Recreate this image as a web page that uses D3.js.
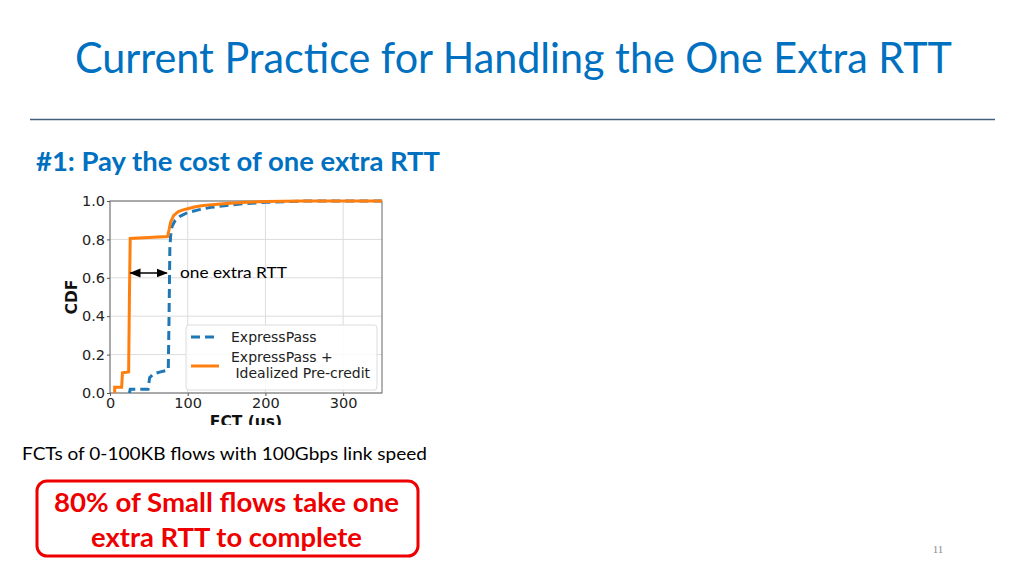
<!DOCTYPE html>
<html>
<head>
<meta charset="utf-8">
<script src="https://cdn.jsdelivr.net/npm/d3@7"></script>
<style>
  body { margin: 0; background: #fff; }
  svg { display: block; }
</style>
</head>
<body>
<div class="canvas"></div>
<script>
// data
const fctExpressPass = [25, 26, 49, 51, 56, 65, 75, 76, 77, 78, 80, 84, 90, 100, 115, 130, 150, 175, 200, 250, 350]
const cdfExpressPass = [0, 0.02, 0.02, 0.08, 0.1, 0.11, 0.12, 0.4, 0.75, 0.82, 0.87, 0.9, 0.92, 0.94, 0.955, 0.967, 0.977, 0.987, 0.993, 1.0, 1.0]
const fctPreCredit = [6, 6, 15, 16, 24, 25, 26, 50, 74, 76, 78, 82, 88, 95, 100, 110, 120, 135, 150, 175, 200, 250, 350]
const cdfPreCredit = [0, 0.03, 0.03, 0.105, 0.11, 0.5, 0.805, 0.81, 0.815, 0.85, 0.89, 0.925, 0.945, 0.955, 0.96, 0.97, 0.976, 0.982, 0.987, 0.993, 0.997, 1.0, 1.0]
const xTicks = [0, 100, 200, 300]
const yTicks = [0, 0.2, 0.4, 0.6, 0.8, 1.0]
const seriesNames = ['ExpressPass', 'ExpressPass +', ' Idealized Pre-credit']
const rttArrow = [25, 73]   // FCT range of the annotation arrow
const rttArrowY = 0.625

const W = 1024, H = 576
const svg = d3.select('.canvas').append('svg')
    .attr('width', W).attr('height', H)

const blue = '#0070C0'
const slideFont = 'Lato, "Open Sans", sans-serif'
const mplFont = '"DejaVu Sans", sans-serif'

// fits text to a measured width (slide font is narrower than Lato)
const fitText = (sel, w) => sel.attr('textLength', w).attr('lengthAdjust', 'spacingAndGlyphs')

// title + rule
svg.append('text')
    .attr('x', 75).attr('y', 73)
    .attr('font-family', slideFont).attr('font-size', 42)
    .attr('fill', blue)
    .text('Current Practice for Handling the One Extra RTT')
    .call(fitText, 877)

svg.append('line')
    .attr('x1', 30).attr('x2', 995).attr('y1', 119.5).attr('y2', 119.5)
    .attr('stroke', '#44607E').attr('stroke-width', 1.5)

svg.append('text')
    .attr('x', 36).attr('y', 171)
    .attr('font-family', slideFont).attr('font-size', 26).attr('font-weight', 'bold')
    .attr('fill', blue)
    .text('#1: Pay the cost of one extra RTT')
    .call(fitText, 404)

// chart
const plot = { left: 110, right: 382, top: 201, bottom: 393 }

const clip = svg.append('clipPath').attr('id', 'figclip')
clip.append('rect').attr('x', 50).attr('y', 188).attr('width', 345).attr('height', 237)

const fig = svg.append('g').attr('clip-path', 'url(#figclip)')

const x = d3.scaleLinear().domain([0, 350]).range([plot.left, plot.right])
const y = d3.scaleLinear().domain([0, 1]).range([plot.bottom, plot.top])

// grid
fig.append('g').selectAll('line.gx')
    .data(xTicks).join('line')
    .attr('x1', d => x(d)).attr('x2', d => x(d))
    .attr('y1', plot.top).attr('y2', plot.bottom)
    .attr('stroke', '#dcdcdc').attr('stroke-width', 1)
fig.append('g').selectAll('line.gy')
    .data(yTicks).join('line')
    .attr('x1', plot.left).attr('x2', plot.right)
    .attr('y1', d => y(d)).attr('y2', d => y(d))
    .attr('stroke', '#dcdcdc').attr('stroke-width', 1)

// axes
const xAxis = fig.append('g')
    .attr('transform', `translate(0, ${plot.bottom})`)
    .call(d3.axisBottom(x).tickValues(xTicks).tickSize(3).tickPadding(2))
const yAxis = fig.append('g')
    .attr('transform', `translate(${plot.left}, 0)`)
    .call(d3.axisLeft(y).tickValues(yTicks).tickFormat(d3.format('.1f')).tickSize(3).tickPadding(2))

;[xAxis, yAxis].forEach(a => {
    a.select('.domain').remove()
    a.selectAll('line').attr('stroke', '#555')
    a.selectAll('text').attr('font-family', mplFont).attr('font-size', 14.5).attr('fill', '#222')
})

// frame
fig.append('rect')
    .attr('x', plot.left).attr('y', plot.top)
    .attr('width', plot.right - plot.left).attr('height', plot.bottom - plot.top)
    .attr('fill', 'none').attr('stroke', '#666').attr('stroke-width', 1)

fig.append('text')
    .attr('transform', `translate(77, ${(plot.top + plot.bottom) / 2}) rotate(-90)`)
    .attr('text-anchor', 'middle')
    .attr('font-family', mplFont).attr('font-size', 15.5).attr('font-weight', 'bold')
    .attr('fill', '#111')
    .text('CDF')

fig.append('text')
    .attr('x', x(175)).attr('y', 427)
    .attr('text-anchor', 'middle')
    .attr('font-family', mplFont).attr('font-size', 15.5).attr('font-weight', 'bold')
    .attr('fill', '#111')
    .text('FCT (us)')

const line = d3.line().x(d => x(d[0])).y(d => y(d[1]))

fig.append('path')
    .datum(d3.zip(fctExpressPass, cdfExpressPass))
    .attr('d', line)
    .attr('fill', 'none').attr('stroke', '#1f77b4').attr('stroke-width', 3)
    .attr('stroke-dasharray', '9,5')

fig.append('path')
    .datum(d3.zip(fctPreCredit, cdfPreCredit))
    .attr('d', line)
    .attr('fill', 'none').attr('stroke', '#ff7f0e').attr('stroke-width', 3)

// legend
const legend = fig.append('g')
legend.append('rect')
    .attr('x', 186).attr('y', 325).attr('width', 191).attr('height', 65).attr('rx', 3)
    .attr('fill', '#fff').attr('fill-opacity', 0.85)
    .attr('stroke', '#ddd').attr('stroke-width', 1)
legend.append('line')
    .attr('x1', 191).attr('x2', 219).attr('y1', 337).attr('y2', 337)
    .attr('stroke', '#1f77b4').attr('stroke-width', 3).attr('stroke-dasharray', '9,5')
legend.append('line')
    .attr('x1', 191).attr('x2', 219).attr('y1', 366).attr('y2', 366)
    .attr('stroke', '#ff7f0e').attr('stroke-width', 3)
legend.selectAll('text.lbl')
    .data(seriesNames).join('text')
    .attr('x', 231)
    .attr('y', (d, i) => [342, 362, 378][i])
    .attr('font-family', mplFont).attr('font-size', 14)
    .attr('fill', '#222')
    .attr('xml:space', 'preserve')
    .style('white-space', 'pre')
    .text(d => d)

// one extra RTT annotation
const defs = svg.append('defs')
defs.append('marker')
    .attr('id', 'ah').attr('viewBox', '0 0 10 10')
    .attr('refX', 9).attr('refY', 5)
    .attr('markerWidth', 7).attr('markerHeight', 7)
    .attr('orient', 'auto-start-reverse')
    .append('path').attr('d', 'M0,1 L10,5 L0,9 z').attr('fill', '#000')

fig.append('line')
    .attr('x1', x(rttArrow[0]) + 1).attr('x2', x(rttArrow[1]))
    .attr('y1', y(rttArrowY)).attr('y2', y(rttArrowY))
    .attr('stroke', '#000').attr('stroke-width', 1.6)
    .attr('marker-start', 'url(#ah)').attr('marker-end', 'url(#ah)')

svg.append('text')
    .attr('x', 180).attr('y', 278)
    .attr('font-family', slideFont).attr('font-size', 16)
    .attr('fill', '#000')
    .text('one extra RTT')
    .call(fitText, 107)

// caption
svg.append('text')
    .attr('x', 22).attr('y', 460)
    .attr('font-family', slideFont).attr('font-size', 18)
    .attr('fill', '#000')
    .text('FCTs of 0-100KB flows with 100Gbps link speed')
    .call(fitText, 405)

// callout box
svg.append('rect')
    .attr('x', 37).attr('y', 481).attr('width', 381).attr('height', 75).attr('rx', 10)
    .attr('fill', '#fff').attr('stroke', '#ee0000').attr('stroke-width', 3)

svg.append('text')
    .attr('x', 54).attr('y', 512)
    .attr('font-family', slideFont).attr('font-size', 26).attr('font-weight', 'bold')
    .attr('fill', '#ee0000')
    .text('80% of Small flows take one')
    .call(fitText, 345)

svg.append('text')
    .attr('x', 91).attr('y', 547)
    .attr('font-family', slideFont).attr('font-size', 26).attr('font-weight', 'bold')
    .attr('fill', '#ee0000')
    .text('extra RTT to complete')
    .call(fitText, 271)

// slide number
svg.append('text')
    .attr('x', 938).attr('y', 553)
    .attr('text-anchor', 'middle')
    .attr('font-family', '"Liberation Serif", serif').attr('font-size', 11)
    .attr('fill', '#8c8c8c')
    .text('11')
</script>
</body>
</html>
